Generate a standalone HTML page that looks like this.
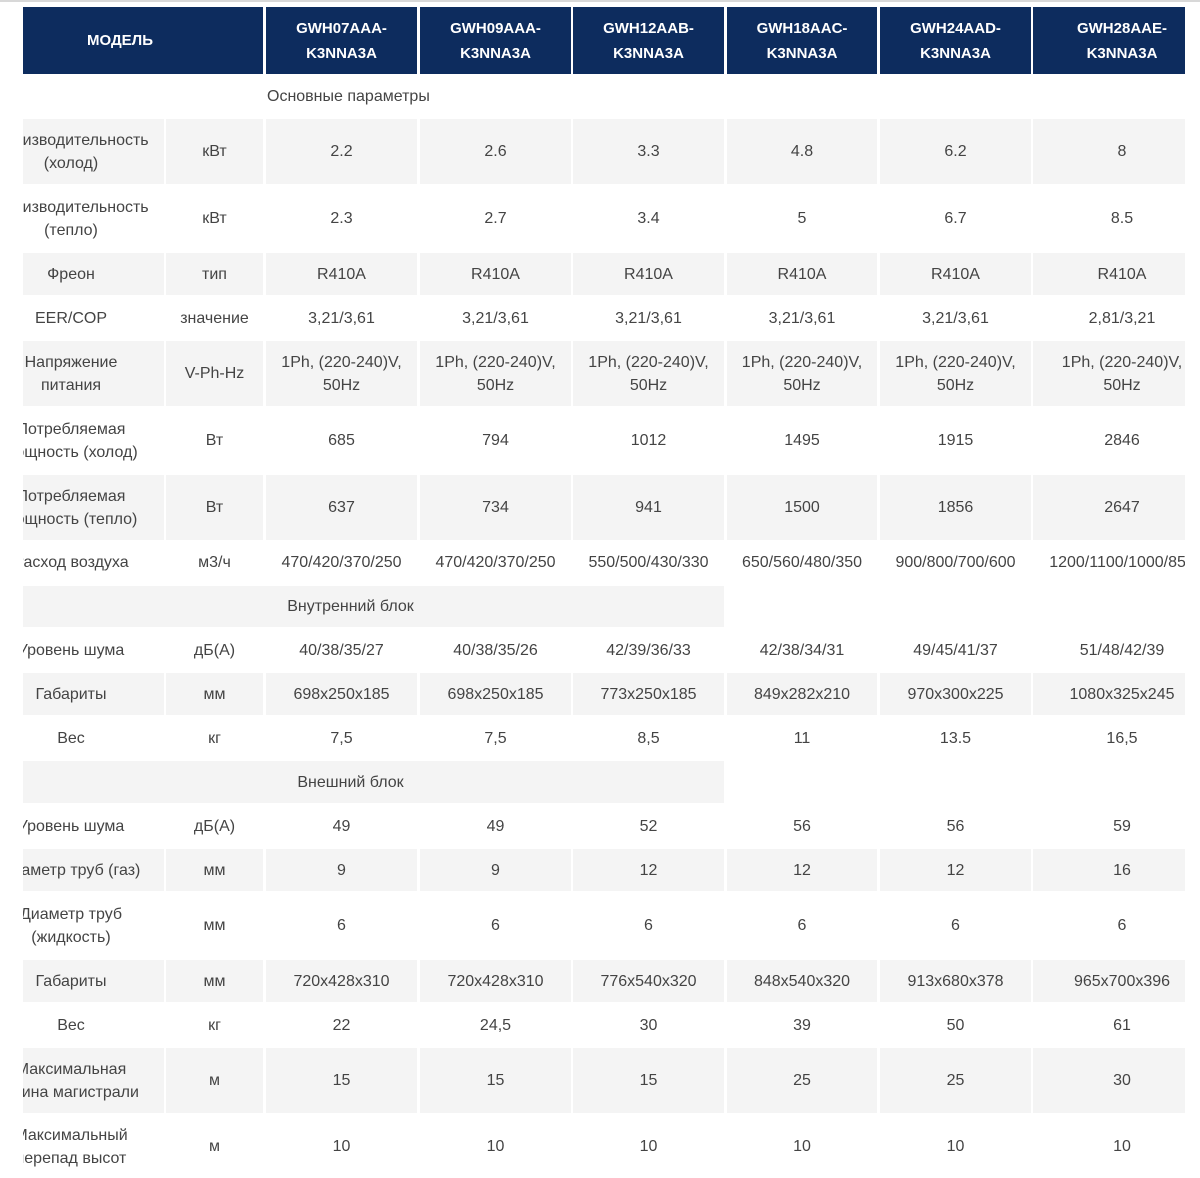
<!DOCTYPE html>
<html><head><meta charset="utf-8"><style>
body{margin:0;width:1200px;height:1178px;overflow:hidden;background:#fff;font-family:"Liberation Sans",sans-serif;position:relative}
.c{position:absolute;display:flex;align-items:center;justify-content:center;text-align:center;color:#444;font-size:16px;line-height:23px;box-sizing:border-box;white-space:nowrap}
.s{background:#f4f4f4}
.h{background:#0d2c5e;color:#fff;font-weight:bold;font-size:15px;line-height:25px}
.mask{position:absolute;top:0;height:1178px;background:#fff;z-index:5}
.top{position:absolute;left:0;top:0;width:1200px;height:2px;background:#d8d8d8;z-index:6}
</style></head><body>
<div class="top"></div>
<div id="t"></div>
<div class="c h" style="left:23px;top:7px;width:240px;height:67px;padding-right:46px">МОДЕЛЬ</div>
<div class="c h" style="left:266px;top:7px;width:151px;height:67px">GWH07AAA-<br>K3NNA3A</div>
<div class="c h" style="left:420px;top:7px;width:151px;height:67px">GWH09AAA-<br>K3NNA3A</div>
<div class="c h" style="left:573px;top:7px;width:151px;height:67px">GWH12AAB-<br>K3NNA3A</div>
<div class="c h" style="left:727px;top:7px;width:150px;height:67px">GWH18AAC-<br>K3NNA3A</div>
<div class="c h" style="left:880px;top:7px;width:151px;height:67px">GWH24AAD-<br>K3NNA3A</div>
<div class="c h" style="left:1033px;top:7px;width:178px;height:67px">GWH28AAE-<br>K3NNA3A</div>
<div class="c" style="left:267px;top:76px;width:400px;height:41px;justify-content:flex-start">Основные параметры</div>
<div class="c s" style="left:23px;top:586px;width:701px;height:41px;padding-right:46px">Внутренний блок</div>
<div class="c s" style="left:23px;top:761px;width:701px;height:42px;padding-right:46px">Внешний блок</div>
<script>
var rows=[
[119,65,1,"Производительность<br>(холод)","кВт","2.2","2.6","3.3","4.8","6.2","8"],
[186,65,0,"Производительность<br>(тепло)","кВт","2.3","2.7","3.4","5","6.7","8.5"],
[253,42,1,"Фреон","тип","R410A","R410A","R410A","R410A","R410A","R410A"],
[297,42,0,"EER/COP","значение","3,21/3,61","3,21/3,61","3,21/3,61","3,21/3,61","3,21/3,61","2,81/3,21"],
[341,65,1,"Напряжение<br>питания","V-Ph-Hz","1Ph, (220-240)V,<br>50Hz","1Ph, (220-240)V,<br>50Hz","1Ph, (220-240)V,<br>50Hz","1Ph, (220-240)V,<br>50Hz","1Ph, (220-240)V,<br>50Hz","1Ph, (220-240)V,<br>50Hz"],
[408,65,0,"Потребляемая<br>мощность (холод)","Вт","685","794","1012","1495","1915","2846"],
[475,65,1,"Потребляемая<br>мощность (тепло)","Вт","637","734","941","1500","1856","2647"],
[542,41,0,"Расход воздуха","м3/ч","470/420/370/250","470/420/370/250","550/500/430/330","650/560/480/350","900/800/700/600","1200/1100/1000/850"],
[629,42,0,"Уровень шума","дБ(А)","40/38/35/27","40/38/35/26","42/39/36/33","42/38/34/31","49/45/41/37","51/48/42/39"],
[673,42,1,"Габариты","мм","698x250x185","698x250x185","773x250x185","849x282x210","970x300x225","1080x325x245"],
[717,42,0,"Вес","кг","7,5","7,5","8,5","11","13.5","16,5"],
[805,42,0,"Уровень шума","дБ(А)","49","49","52","56","56","59"],
[849,42,1,"Диаметр труб (газ)","мм","9","9","12","12","12","16"],
[893,65,0,"Диаметр труб<br>(жидкость)","мм","6","6","6","6","6","6"],
[960,42,1,"Габариты","мм","720x428x310","720x428x310","776x540x320","848x540x320","913x680x378","965x700x396"],
[1004,42,0,"Вес","кг","22","24,5","30","39","50","61"],
[1048,65,1,"Максимальная<br>длина магистрали","м","15","15","15","25","25","30"],
[1115,63,0,"Максимальный<br>перепад высот","м","10","10","10","10","10","10"]];
var cols=[[-22,186],[166,97],[266,151],[420,151],[573,151],[727,150],[880,151],[1033,178]];
var h="";
rows.forEach(function(r){
 for(var i=0;i<8;i++){
  var st="left:"+cols[i][0]+"px;top:"+r[0]+"px;width:"+cols[i][1]+"px;height:"+r[1]+"px;";
  h+='<div class="c'+(r[2]?' s':'')+'" style="'+st+'">'+r[3+i]+'</div>';
 }
});
document.getElementById("t").innerHTML=h;
</script>
<div class="mask" style="left:0;width:23px"></div>
<div class="mask" style="left:1185px;width:15px"></div>
</body></html>
